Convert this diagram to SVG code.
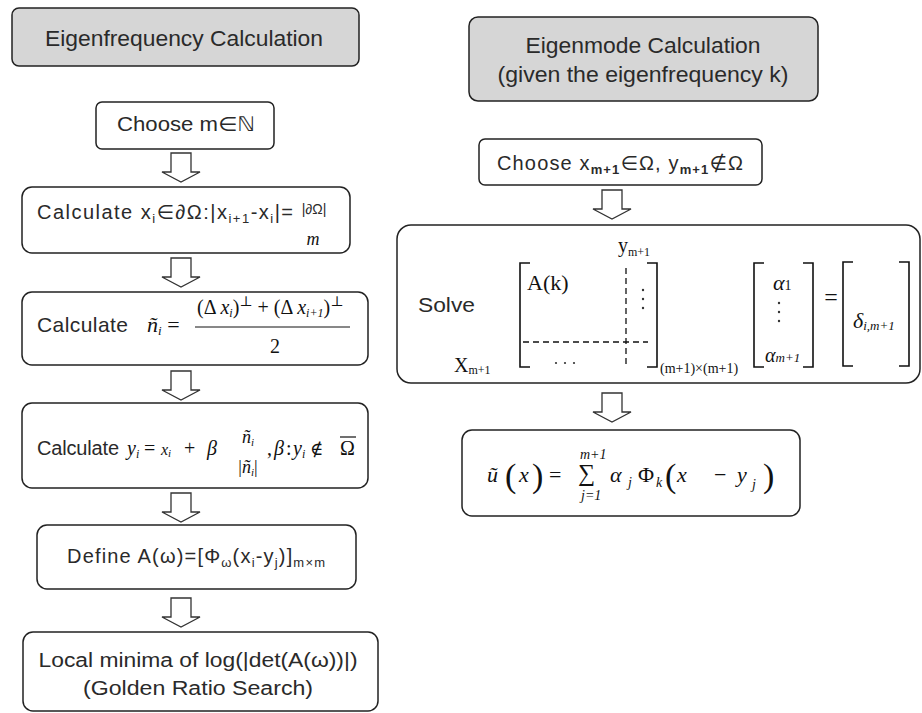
<svg xmlns="http://www.w3.org/2000/svg" width="922" height="713" viewBox="0 0 922 713">
<defs>
<style>
.box{fill:#fff;stroke:#222;stroke-width:1.5}
.title{fill:#d6d6d6;stroke:#222;stroke-width:1.5}
.arr{fill:#fff;stroke:#333;stroke-width:1.3;stroke-linejoin:miter}
.s{font-family:"Liberation Sans",Arial,"DejaVu Sans",sans-serif;fill:#2a2a2a}
.m{font-family:"Liberation Serif","Times New Roman","DejaVu Serif",serif;fill:#111}
.i{font-style:italic}
.br{fill:none;stroke:#111;stroke-width:1.6}
.dash{stroke:#111;stroke-width:1.3;stroke-dasharray:6 4;fill:none}
.dot{fill:#333}
</style>
</defs>
<rect width="922" height="713" fill="#fff"/>

<g id="connectors">
<path class="arr" d="M171 153 H191 V172 H200 L181 182 L162 172 H171 Z"/>
<path class="arr" d="M171 258 H191 V277 H200 L181 287 L162 277 H171 Z"/>
<path class="arr" d="M171 371 H191 V390 H200 L181 400 L162 390 H171 Z"/>
<path class="arr" d="M171 493 H191 V512 H200 L181 522 L162 512 H171 Z"/>
<path class="arr" d="M171 598 H191 V617 H200 L181 627 L162 617 H171 Z"/>
<path class="arr" d="M602 190 H622 V209 H631 L612 219 L593 209 H602 Z"/>
<path class="arr" d="M602 393 H622 V412 H631 L612 422 L593 412 H602 Z"/>
</g>

<g id="eigenfrequency-title">
<rect class="title" x="12" y="8" width="347" height="58" rx="7"/>
<text class="s" x="184" y="46" font-size="22" text-anchor="middle" textLength="278" lengthAdjust="spacingAndGlyphs">Eigenfrequency Calculation</text>
</g>

<g id="choose-m">
<rect class="box" x="96" y="102" width="178" height="47" rx="6"/>
<text class="s" x="117" y="131" font-size="20" textLength="138" lengthAdjust="spacingAndGlyphs">Choose m∈ℕ</text>
</g>

<g id="calc-x">
<rect class="box" x="22" y="187" width="328" height="66" rx="10"/>
<text class="s" x="37" y="219" font-size="20" textLength="256" lengthAdjust="spacing">Calculate x<tspan font-size="13" dy="4">i</tspan><tspan dy="-4">∈∂Ω:|x</tspan><tspan font-size="13" dy="4">i+1</tspan><tspan dy="-4">-x</tspan><tspan font-size="13" dy="4">i</tspan><tspan dy="-4">|=</tspan></text>
<text class="s" x="314" y="214" font-size="14" text-anchor="middle">|∂Ω|</text>
<text class="m i" x="313" y="245" font-size="18" text-anchor="middle">m</text>
</g>

<g id="calc-n">
<rect class="box" x="22" y="292" width="346" height="73" rx="10"/>
<text class="s" x="37" y="332" font-size="21" textLength="91" lengthAdjust="spacing">Calculate</text>
<text class="m" x="147" y="332" font-size="22"><tspan class="i">ñ</tspan><tspan class="i" font-size="13" dy="3">i</tspan><tspan dy="-3"> =</tspan></text>
<text class="m" x="197" y="314" font-size="20">(Δ <tspan class="i">x</tspan><tspan class="i" font-size="12" dy="3">i</tspan><tspan dy="-3">)</tspan><tspan font-size="14" dy="-8">⊥</tspan><tspan dy="8"> + (Δ </tspan><tspan class="i">x</tspan><tspan class="i" font-size="12" dy="3">i+1</tspan><tspan dy="-3">)</tspan><tspan font-size="14" dy="-8">⊥</tspan></text>
<line x1="195" y1="327" x2="350" y2="327" stroke="#111" stroke-width="1"/>
<text class="m" x="275" y="353" font-size="20" text-anchor="middle">2</text>
</g>

<g id="calc-y">
<rect class="box" x="22" y="403" width="346" height="85" rx="10"/>
<text class="s" x="37" y="455" font-size="20" textLength="82" lengthAdjust="spacing">Calculate</text>
<text class="m i" x="127" y="455" font-size="20">y<tspan font-size="12" dy="3">i</tspan></text>
<text class="m" x="144" y="455" font-size="20">=</text>
<text class="m i" x="161" y="455" font-size="16">x<tspan font-size="11" dy="2">i</tspan></text>
<text class="m" x="184" y="455" font-size="20">+</text>
<text class="m i" x="207" y="455" font-size="20">β</text>
<text class="m i" x="248" y="443" font-size="18" text-anchor="middle">ñ<tspan font-size="11" dy="3">i</tspan></text>
<text class="m" x="248" y="473" font-size="18" text-anchor="middle">|<tspan class="i">ñ</tspan><tspan class="i" font-size="11" dy="3">i</tspan><tspan dy="-3">|</tspan></text>
<text class="m" x="267" y="455" font-size="20">,</text>
<text class="m i" x="274" y="455" font-size="20">β</text>
<text class="m" x="286" y="455" font-size="20">:</text>
<text class="m i" x="293" y="455" font-size="20">y<tspan font-size="12" dy="3">i</tspan></text>
<text class="m" x="310" y="455" font-size="18">∉</text>
<text class="m" x="340" y="455" font-size="20">Ω</text>
<line x1="340" y1="437" x2="356" y2="437" stroke="#111" stroke-width="1.2"/>
</g>

<g id="define-a">
<rect class="box" x="37" y="525" width="319" height="64" rx="10"/>
<text class="s" x="67" y="563" font-size="20" textLength="258" lengthAdjust="spacing">Define A(ω)=[Φ<tspan font-size="13" dy="4">ω</tspan><tspan dy="-4">(x</tspan><tspan font-size="13" dy="4">i</tspan><tspan dy="-4">-y</tspan><tspan font-size="13" dy="4">j</tspan><tspan dy="-4">)]</tspan><tspan font-size="13" dy="4">m×m</tspan></text>
</g>

<g id="local-minima">
<rect class="box" x="23" y="632" width="355" height="79" rx="10"/>
<text class="s" x="198" y="667" font-size="20" text-anchor="middle" textLength="319" lengthAdjust="spacingAndGlyphs">Local minima of log(|det(A(ω))|)</text>
<text class="s" x="198" y="695" font-size="20" text-anchor="middle" textLength="230" lengthAdjust="spacingAndGlyphs">(Golden Ratio Search)</text>
</g>

<g id="eigenmode-title">
<rect class="title" x="469" y="17" width="349" height="84" rx="9"/>
<text class="s" x="643" y="53" font-size="22" text-anchor="middle" textLength="235" lengthAdjust="spacingAndGlyphs">Eigenmode Calculation</text>
<text class="s" x="643" y="82" font-size="22" text-anchor="middle" textLength="291" lengthAdjust="spacingAndGlyphs">(given the eigenfrequency k)</text>
</g>

<g id="choose-xy">
<rect class="box" x="479" y="139" width="283" height="46" rx="6"/>
<text class="s" x="497" y="170" font-size="20" textLength="246" lengthAdjust="spacing">Choose x<tspan font-size="13" font-weight="bold" dy="4">m+1</tspan><tspan dy="-4">∈Ω, y</tspan><tspan font-size="13" font-weight="bold" dy="4">m+1</tspan><tspan dy="-4">∉Ω</tspan></text>
</g>

<g id="solve">
<rect class="box" x="397" y="225" width="523" height="158" rx="14"/>
<text class="s" x="418" y="312" font-size="21" textLength="57" lengthAdjust="spacingAndGlyphs">Solve</text>
<path class="br" d="M530 263 H520 V367 H530"/>
<path class="br" d="M647 263 H657 V367 H647"/>
<text class="m" x="527" y="290" font-size="22">A(k)</text>
<text class="m" x="618" y="252" font-size="20">y<tspan font-size="12" dy="4">m+1</tspan></text>
<line class="dash" x1="626" y1="268" x2="626" y2="367"/>
<line class="dash" x1="523" y1="342" x2="648" y2="342"/>
<circle class="dot" cx="643" cy="290" r="1.2"/>
<circle class="dot" cx="643" cy="299" r="1.2"/>
<circle class="dot" cx="643" cy="308" r="1.2"/>
<circle class="dot" cx="556" cy="363" r="1.1"/>
<circle class="dot" cx="565" cy="363" r="1.1"/>
<circle class="dot" cx="574" cy="363" r="1.1"/>
<text class="m" x="454" y="372" font-size="20">X<tspan font-size="12" dy="2">m+1</tspan></text>
<text class="m" x="660" y="373" font-size="14">(m+1)×(m+1)</text>
<path class="br" d="M764 263 H754 V367 H764"/>
<path class="br" d="M803 263 H813 V367 H803"/>
<text class="m" x="773" y="290" font-size="22"><tspan class="i">α</tspan><tspan font-size="14">1</tspan></text>
<circle class="dot" cx="779" cy="303" r="1.2"/>
<circle class="dot" cx="779" cy="312" r="1.2"/>
<circle class="dot" cx="779" cy="321" r="1.2"/>
<text class="m" x="765" y="362" font-size="20"><tspan class="i">α</tspan><tspan class="i" font-size="13">m+1</tspan></text>
<text class="m" x="831" y="305" font-size="24" text-anchor="middle">=</text>
<path class="br" d="M853 262 H843 V366 H853"/>
<path class="br" d="M899 262 H909 V366 H899"/>
<text class="m" x="853" y="328" font-size="22"><tspan class="i">δ</tspan><tspan class="i" font-size="13" dy="2">i,m+1</tspan></text>
</g>

<g id="result">
<rect class="box" x="462" y="430" width="338" height="86" rx="10"/>
<text class="m i" x="487" y="482" font-size="22">ũ</text>
<text class="m" x="505" y="487" font-size="34">(</text>
<text class="m i" x="519" y="482" font-size="22">x</text>
<text class="m" x="532" y="487" font-size="34">)</text>
<text class="m" x="549" y="482" font-size="22">=</text>
<text class="m i" x="580" y="459" font-size="14">m+1</text>
<text class="m" x="578" y="481" font-size="24">∑</text>
<text class="m i" x="581" y="500" font-size="14">j=1</text>
<text class="m i" x="610" y="482" font-size="22">α</text>
<text class="m i" x="628" y="487" font-size="14">j</text>
<text class="m" x="638" y="482" font-size="22">Φ</text>
<text class="m i" x="656" y="487" font-size="14">k</text>
<text class="m" x="665" y="487" font-size="34">(</text>
<text class="m i" x="677" y="482" font-size="22">x</text>
<text class="m" x="714" y="482" font-size="22">−</text>
<text class="m i" x="737" y="482" font-size="22">y</text>
<text class="m i" x="752" y="489" font-size="14">j</text>
<text class="m" x="763" y="487" font-size="34">)</text>
</g>
</svg>
